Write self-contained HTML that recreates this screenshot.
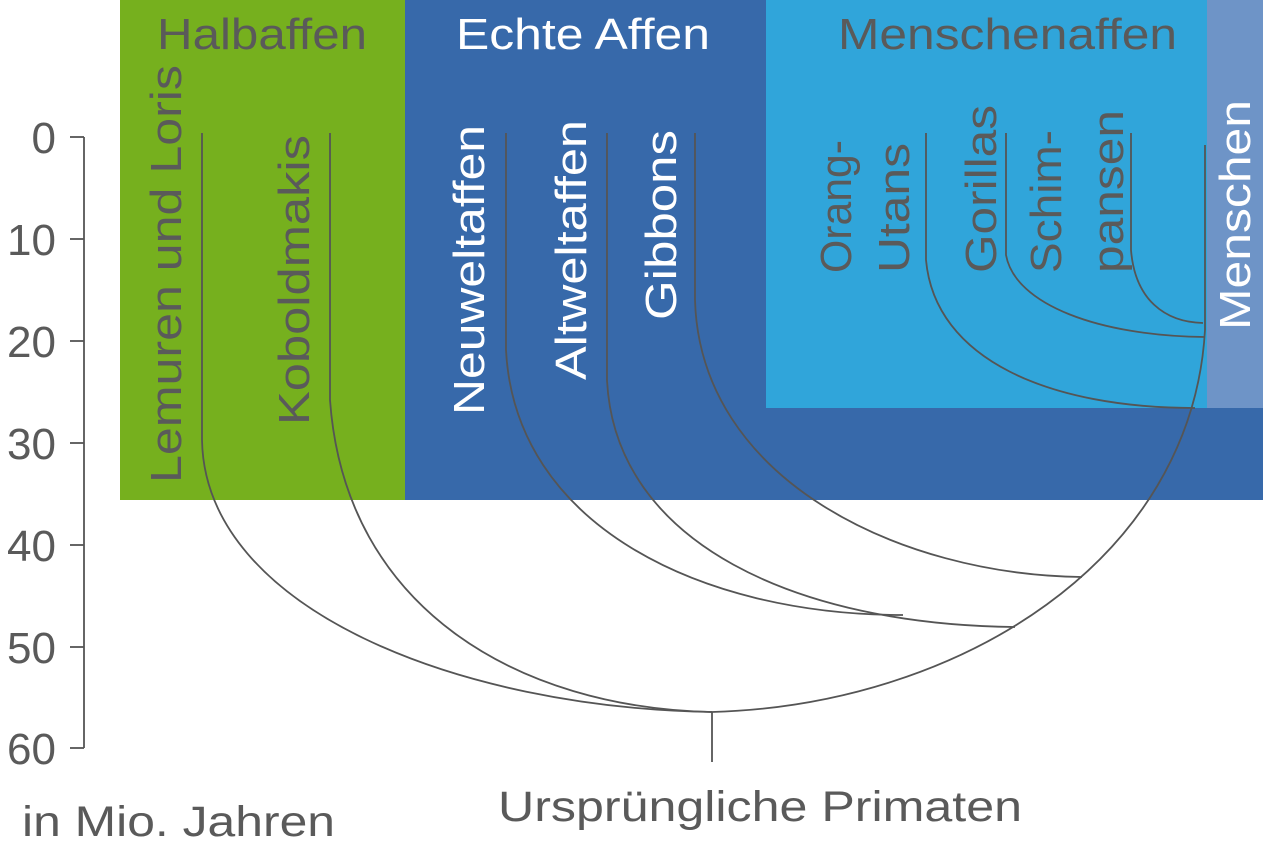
<!DOCTYPE html>
<html><head><meta charset="utf-8"><style>
html,body{margin:0;padding:0;background:#fff;width:1263px;height:848px;overflow:hidden}
svg{display:block}
text{font-family:"Liberation Sans",sans-serif}
</style></head><body>
<svg width="1263" height="848" viewBox="0 0 1263 848" xmlns="http://www.w3.org/2000/svg">
<rect x="120" y="0" width="285" height="500" fill="#76b01e"/>
<rect x="405" y="0" width="858" height="500" fill="#3769aa"/>
<rect x="766" y="0" width="441" height="408" fill="#30a5da"/>
<rect x="1207" y="0" width="56" height="408" fill="#6e94c7"/>

<g stroke="#555" stroke-width="1.8" fill="none">
<line x1="84" y1="137" x2="84" y2="748"/>
<line x1="70" y1="137" x2="84" y2="137"/>
<line x1="70" y1="239" x2="84" y2="239"/>
<line x1="70" y1="341" x2="84" y2="341"/>
<line x1="70" y1="443" x2="84" y2="443"/>
<line x1="70" y1="545" x2="84" y2="545"/>
<line x1="70" y1="647" x2="84" y2="647"/>
<line x1="70" y1="748" x2="84" y2="748"/>
<path d="M202 133 V440 C205 610 460 708 712 712"/>
<path d="M330 133 V400 C345 610 520 708 712 712"/>
<path d="M712 712 V762"/>
<path d="M712 712 C960 705 1192 560 1205 330 V145"/>
<path d="M695 133 V300 C700 480 900 575 1082 577"/>
<path d="M607 133 V380 C615 545 800 625 1015 627"/>
<path d="M506 133 V350 C515 525 700 615 903 615"/>
<path d="M926 133 V260 C935 360 1050 408 1195 408"/>
<path d="M1006 133 V255 C1015 305 1100 336 1205 337"/>
<path d="M1131 133 V250 C1135 300 1165 322 1203 323"/>
</g>

<g font-size="44" fill="#5a5a5a" text-anchor="end">
<text x="56" y="153">0</text>
<text x="56" y="255">10</text>
<text x="56" y="357">20</text>
<text x="56" y="459">30</text>
<text x="56" y="561">40</text>
<text x="56" y="663">50</text>
<text x="56" y="764">60</text>
</g>
<text x="22" y="836" font-size="43" fill="#5a5a5a" textLength="313" lengthAdjust="spacingAndGlyphs">in Mio. Jahren</text>
<text x="498" y="821" font-size="43" fill="#5a5a5a" textLength="524" lengthAdjust="spacingAndGlyphs">Ursprüngliche Primaten</text>

<text x="157" y="49" font-size="44" fill="#5a5a5a" textLength="210" lengthAdjust="spacingAndGlyphs">Halbaffen</text>
<text x="456" y="49" font-size="44" fill="#fff" textLength="254" lengthAdjust="spacingAndGlyphs">Echte Affen</text>
<text x="838" y="49" font-size="44" fill="#5a5a5a" textLength="339" lengthAdjust="spacingAndGlyphs">Menschenaffen</text>

<g font-size="44" lengthAdjust="spacingAndGlyphs">
<text transform="translate(181,483) rotate(-90)" fill="#5a5a5a" textLength="418" lengthAdjust="spacingAndGlyphs">Lemuren und Loris</text>
<text transform="translate(309,425) rotate(-90)" fill="#5a5a5a" textLength="290" lengthAdjust="spacingAndGlyphs">Koboldmakis</text>
<text transform="translate(484,415) rotate(-90)" fill="#fff" textLength="290" lengthAdjust="spacingAndGlyphs">Neuweltaffen</text>
<text transform="translate(586,380) rotate(-90)" fill="#fff" textLength="260" lengthAdjust="spacingAndGlyphs">Altweltaffen</text>
<text transform="translate(676,320) rotate(-90)" fill="#fff" textLength="190" lengthAdjust="spacingAndGlyphs">Gibbons</text>
<text transform="translate(851,273) rotate(-90)" fill="#5a5a5a" textLength="133" lengthAdjust="spacingAndGlyphs">Orang-</text>
<text transform="translate(909,273) rotate(-90)" fill="#5a5a5a" textLength="130" lengthAdjust="spacingAndGlyphs">Utans</text>
<text transform="translate(996,273) rotate(-90)" fill="#5a5a5a" textLength="168" lengthAdjust="spacingAndGlyphs">Gorillas</text>
<text transform="translate(1061,273) rotate(-90)" fill="#5a5a5a" textLength="143" lengthAdjust="spacingAndGlyphs">Schim-</text>
<text transform="translate(1123,273) rotate(-90)" fill="#5a5a5a" textLength="163" lengthAdjust="spacingAndGlyphs">pansen</text>
<text transform="translate(1250,330) rotate(-90)" fill="#fff" textLength="230" lengthAdjust="spacingAndGlyphs">Menschen</text>
</g>
</svg>
</body></html>
